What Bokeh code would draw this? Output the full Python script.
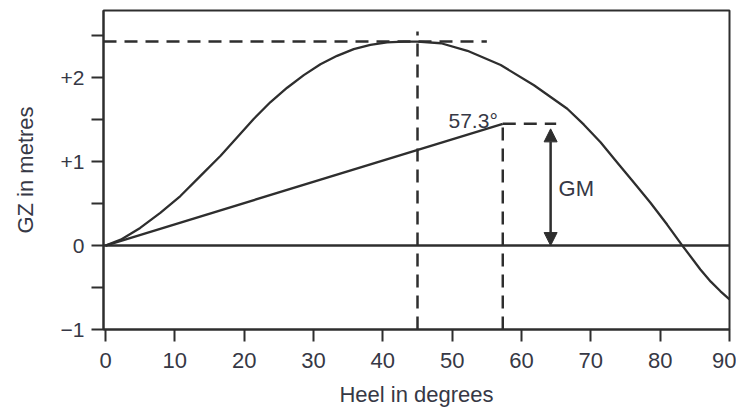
from bokeh.plotting import figure
from bokeh.models import (Range1d, FixedTicker, CustomJSTickFormatter, Span,
                          Arrow, NormalHead)
from bokeh.core.properties import value
from bokeh.embed import file_html
from bokeh.resources import INLINE

# ---- data ----
heel = [0, 2.2, 5, 7.9, 10.8, 13.7, 16.6, 19, 21.4, 23.8, 26.2, 28.6, 31,
        33.4, 35.8, 38.2, 40.6, 43, 45, 48.4, 52.2, 57, 61.8, 66.6, 69,
        71.4, 73.8, 76.2, 78.6, 81, 83.2, 85.8, 87.3, 88.7, 90]
gz = [0, 0.07, 0.21, 0.39, 0.59, 0.83, 1.07, 1.29, 1.51, 1.71, 1.88, 2.03,
      2.16, 2.26, 2.34, 2.39, 2.42, 2.43, 2.43, 2.41, 2.32, 2.15, 1.91, 1.63,
      1.44, 1.23, 0.99, 0.75, 0.51, 0.25, 0, -0.285, -0.43, -0.545, -0.64]
max_heel = 45
gz_max = 2.43
radian_heel = 57.3
gm = 1.45
tangent_x = [0, radian_heel]
tangent_y = [0, gm]
x_ticks = [0, 10, 20, 30, 40, 50, 60, 70, 80, 90]
y_ticks = [-1, 0, 1, 2]
y_minor_ticks = [-0.5, 0.5, 1.5, 2.5]

LINE = "#2e2e2e"
TEXT = "#363845"
FONT = "Liberation Sans"

p = figure(width=736, height=414, x_range=Range1d(-0.29, 90),
           y_range=Range1d(-1, 2.8), output_backend="svg",
           toolbar_location=None, min_border_left=103, min_border_right=7,
           min_border_top=10, min_border_bottom=85)
p.grid.visible = False
p.outline_line_color = LINE
p.outline_line_width = 2
p.background_fill_color = "white"
p.border_fill_color = "white"

# axes
xa = p.xaxis[0]
xa.ticker = FixedTicker(ticks=x_ticks)
xa.axis_label = "Heel in degrees"
xa.major_label_standoff = 11
xa.axis_label_standoff = 11

ya = p.yaxis[0]
ya.ticker = FixedTicker(ticks=y_ticks, minor_ticks=y_minor_ticks)
ya.formatter = CustomJSTickFormatter(code="""
    if (tick > 0) return "+" + tick;
    if (tick < 0) return "\u2212" + Math.abs(tick);
    return "0";
""")
ya.axis_label = "GZ in metres"
ya.major_label_standoff = 7
ya.axis_label_standoff = 20

for ax in (xa, ya):
    ax.axis_line_color = LINE
    ax.axis_line_width = 2
    ax.major_tick_line_color = LINE
    ax.major_tick_line_width = 2
    ax.major_tick_out = 12
    ax.major_tick_in = 0
    ax.minor_tick_line_color = LINE
    ax.minor_tick_line_width = 2
    ax.minor_tick_out = 12
    ax.minor_tick_in = 0
    ax.major_label_text_font = FONT
    ax.major_label_text_color = TEXT
    ax.axis_label_text_font = FONT
    ax.axis_label_text_font_style = "normal"
    ax.axis_label_text_color = TEXT
    ax.axis_label_text_font_size = "22px"
xa.minor_tick_out = 0
xa.major_label_text_font_size = "22px"
ya.major_label_text_font_size = "21px"

# zero line
p.add_layout(Span(location=0, dimension="width", line_color=LINE,
                  line_width=2.5))

# dashed construction lines
dash = dict(line_color=LINE, line_width=2.5, line_dash="13 8")
p.segment(x0=[p.x_range.start, max_heel, radian_heel, radian_heel],
          y0=[gz_max, -1, -1, gm],
          x1=[55, max_heel, radian_heel, 65],
          y1=[gz_max, 2.55, gm, gm], **dash)

# GZ curve and tangent
p.line(heel, gz, line_color=LINE, line_width=2.3, line_join="round")
p.line(tangent_x, tangent_y, line_color=LINE, line_width=2.3)

# GM arrow
arrow_x = 64.2
p.add_layout(Arrow(x_start=arrow_x, y_start=gm - 0.06, x_end=arrow_x, y_end=0,
                   line_color=LINE, line_width=2.5,
                   start=NormalHead(size=13, fill_color=LINE, line_color=LINE),
                   end=NormalHead(size=13, fill_color=LINE, line_color=LINE)))

# labels
p.text(x=[radian_heel], y=[gm], text=["57.3°"], text_align="right",
       text_baseline="alphabetic", x_offset=-5, y_offset=-3,
       text_font=value(FONT), text_font_size="21px", text_color=TEXT)
p.text(x=[arrow_x], y=[0.68], text=["GM"], text_align="left",
       text_baseline="middle", x_offset=8,
       text_font=value(FONT), text_font_size="22px", text_color=TEXT)

open("out.html", "w").write(file_html(p, INLINE))
